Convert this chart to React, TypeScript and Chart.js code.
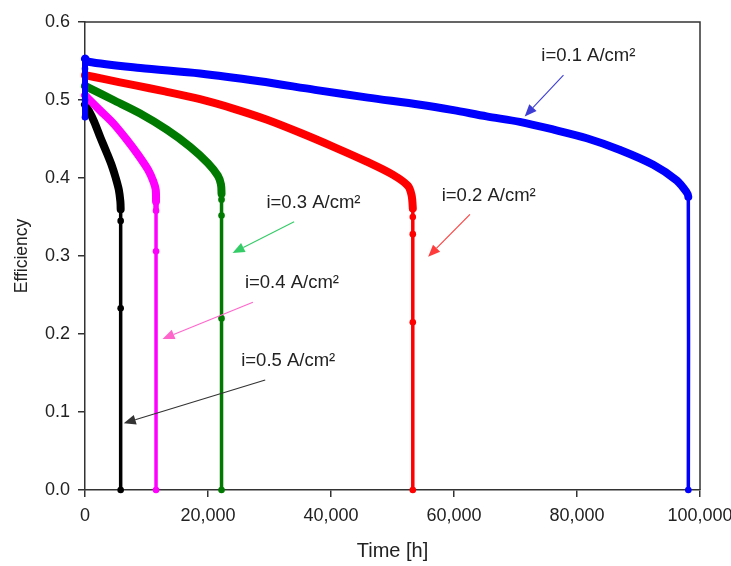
import React, { useEffect, useRef } from "react";
import { Chart, registerables } from "chart.js";

Chart.register(...registerables);

// [time (h), efficiency]
const series01: number[][] = [
  [0, 0.478], [0, 0.5], [0, 0.52], [0, 0.54], [0, 0.553], [500, 0.549], [9000, 0.541],
  [18700, 0.534], [28400, 0.524], [37400, 0.513], [46000, 0.503], [54500, 0.494],
  [59900, 0.487], [65300, 0.479], [70700, 0.472], [76200, 0.462], [81600, 0.451],
  [87000, 0.436], [92400, 0.417], [96200, 0.397], [97800, 0.382], [98100, 0.376], [98100, 0],
];
const series02: number[][] = [
  [0, 0.532], [3000, 0.527], [8000, 0.519], [13000, 0.511], [18700, 0.501], [24100, 0.489],
  [29500, 0.475], [35000, 0.458], [40400, 0.44], [45800, 0.421], [50100, 0.404],
  [52500, 0.39], [53100, 0.378], [53300, 0.361], [53300, 0.35], [53300, 0.328],
  [53300, 0.215], [53300, 0],
];
const series03: number[][] = [
  [0, 0.518], [800, 0.515], [4600, 0.5], [8900, 0.483], [13300, 0.462], [17100, 0.44],
  [20000, 0.419], [21600, 0.403], [22100, 0.392], [22200, 0.38], [22200, 0.372],
  [22200, 0.352], [22200, 0.22], [22200, 0],
];
const series04: number[][] = [
  [0, 0.506], [500, 0.502], [2400, 0.487], [4600, 0.47], [6800, 0.449], [8700, 0.429],
  [10300, 0.41], [11100, 0.396], [11500, 0.385], [11550, 0.37], [11550, 0.358],
  [11550, 0.306], [11550, 0],
];
const series05: number[][] = [
  [0, 0.494], [700, 0.485], [1500, 0.472], [2500, 0.452], [3500, 0.433], [4400, 0.415],
  [5000, 0.4], [5500, 0.385], [5750, 0.37], [5800, 0.36], [5800, 0.345], [5800, 0.233],
  [5800, 0],
];

const seriesData = [series01, series02, series03, series04, series05];
const seriesNames = ["i=0.1", "i=0.2", "i=0.3", "i=0.4", "i=0.5"];
const seriesColors = ["#0000ff", "#ff0000", "#007a00", "#ff00ff", "#000000"];

const xTicks = [0, 20000, 40000, 60000, 80000, 100000];
const yTicks = [0, 0.1, 0.2, 0.3, 0.4, 0.5, 0.6];

// annotations (data units)
const annLabels = ["i=0.1 A/cm²", "i=0.2 A/cm²", "i=0.3 A/cm²", "i=0.4 A/cm²", "i=0.5 A/cm²"];
const annTextX = [74200, 58000, 29500, 26000, 25400];
const annTextY = [0.556, 0.377, 0.368, 0.265, 0.165];
const annFromX = [77800, 62600, 34000, 27300, 29300];
const annFromY = [0.532, 0.3535, 0.344, 0.2406, 0.141];
const annToX = [71500, 55800, 24000, 12600, 6300];
const annToY = [0.479, 0.299, 0.304, 0.1936, 0.0855];
const annColors = ["#3d3dd6", "#ff3b3b", "#33cc66", "#ff66cc", "#333333"];

const FONT = "'Liberation Sans', Arial, sans-serif";

const framePlugin = {
  id: "frameAndNotes",
  afterDatasetsDraw(chart: any) {
    const { ctx, chartArea, scales } = chart;
    const xs = scales.x;
    const ys = scales.y;
    ctx.save();
    ctx.strokeStyle = "#333";
    ctx.lineWidth = 1.5;
    ctx.beginPath();
    ctx.moveTo(chartArea.left, chartArea.top);
    ctx.lineTo(chartArea.right, chartArea.top);
    ctx.lineTo(chartArea.right, chartArea.bottom);
    ctx.stroke();

    ctx.font = `18.5px ${FONT}`;
    ctx.textBaseline = "middle";
    ctx.textAlign = "left";
    for (let i = 0; i < annLabels.length; i++) {
      ctx.fillStyle = "#222";
      ctx.fillText(annLabels[i], xs.getPixelForValue(annTextX[i]), ys.getPixelForValue(annTextY[i]));
      const x1 = xs.getPixelForValue(annFromX[i]);
      const y1 = ys.getPixelForValue(annFromY[i]);
      const x2 = xs.getPixelForValue(annToX[i]);
      const y2 = ys.getPixelForValue(annToY[i]);
      const ang = Math.atan2(y2 - y1, x2 - x1);
      const L = 12;
      const W = 5;
      const bx = x2 - L * Math.cos(ang);
      const by = y2 - L * Math.sin(ang);
      ctx.strokeStyle = annColors[i];
      ctx.fillStyle = annColors[i];
      ctx.lineWidth = 1.1;
      ctx.beginPath();
      ctx.moveTo(x1, y1);
      ctx.lineTo(bx, by);
      ctx.stroke();
      ctx.beginPath();
      ctx.moveTo(x2, y2);
      ctx.lineTo(bx + W * Math.sin(ang), by - W * Math.cos(ang));
      ctx.lineTo(bx - W * Math.sin(ang), by + W * Math.cos(ang));
      ctx.closePath();
      ctx.fill();
    }
    ctx.restore();
  },
};

export default function App() {
  const ref = useRef<HTMLCanvasElement>(null);
  useEffect(() => {
    if (!ref.current) return;
    const chart = new Chart(ref.current, {
      type: "line",
      data: {
        datasets: seriesData.map((s, i) => ({
          label: seriesNames[i],
          data: s.map((p) => ({ x: p[0], y: p[1] })),
          borderColor: seriesColors[i],
          backgroundColor: seriesColors[i],
          pointBackgroundColor: seriesColors[i],
          pointBorderWidth: 0,
          pointRadius: 3.3,
          pointHoverRadius: 3.3,
          borderWidth: 8,
          borderCapStyle: "round",
          borderJoinStyle: "round",
          tension: 0.3,
          clip: 10,
          segment: {
            borderWidth: (c: any) => {
              if (c.p0.parsed.x === c.p1.parsed.x) {
                if (c.p0.parsed.y > 0.45) return 6;
                if (c.p1.parsed.y >= 0.358) return 5.5;
                return 3.5;
              }
              return 8;
            },
          },
        })),
      },
      options: {
        animation: false,
        responsive: false,
        devicePixelRatio: 1,
        layout: { padding: { top: 22, right: 31, left: 0, bottom: 0 } },
        plugins: { legend: { display: false }, tooltip: { enabled: false } },
        scales: {
          x: {
            type: "linear",
            min: 0,
            max: 100000,
            afterBuildTicks: (s: any) => {
              s.ticks = xTicks.map((v) => ({ value: v }));
            },
            afterFit: (s: any) => {
              s.height = 76;
              s.paddingLeft = 0;
              s.paddingRight = 0;
            },
            grid: { display: true, drawOnChartArea: false, drawTicks: true, tickLength: 7, color: "#333", lineWidth: 1.5 },
            border: { display: true, color: "#333", width: 1.5 },
            ticks: {
              color: "#222",
              font: { size: 18, family: FONT },
              padding: 8,
              maxRotation: 0,
              callback: (v: any) => Number(v).toLocaleString("en-US"),
            },
            title: { display: true, text: "Time [h]", color: "#222", font: { size: 20, family: FONT }, padding: { top: 4, bottom: 3 } },
          },
          y: {
            type: "linear",
            min: 0,
            max: 0.6,
            afterBuildTicks: (s: any) => {
              s.ticks = yTicks.map((v) => ({ value: v }));
            },
            afterFit: (s: any) => {
              s.width = 85;
              s.paddingTop = 0;
              s.paddingBottom = 0;
            },
            grid: { display: true, drawOnChartArea: false, drawTicks: true, tickLength: 7, color: "#333", lineWidth: 1.5 },
            border: { display: true, color: "#333", width: 1.5 },
            ticks: {
              color: "#222",
              font: { size: 18, family: FONT },
              padding: 8,
              callback: (v: any) => Number(v).toFixed(1),
            },
            title: { display: true, text: "Efficiency", color: "#222", font: { size: 17.5, family: FONT }, padding: { top: 12, bottom: 0 } },
          },
        },
      },
      plugins: [framePlugin],
    } as any);
    return () => chart.destroy();
  }, []);
  return (
    <div style={{ position: "absolute", left: 0, top: 0, width: 731, height: 566, background: "#fff" }}>
      <canvas ref={ref} width={731} height={566} />
    </div>
  );
}
